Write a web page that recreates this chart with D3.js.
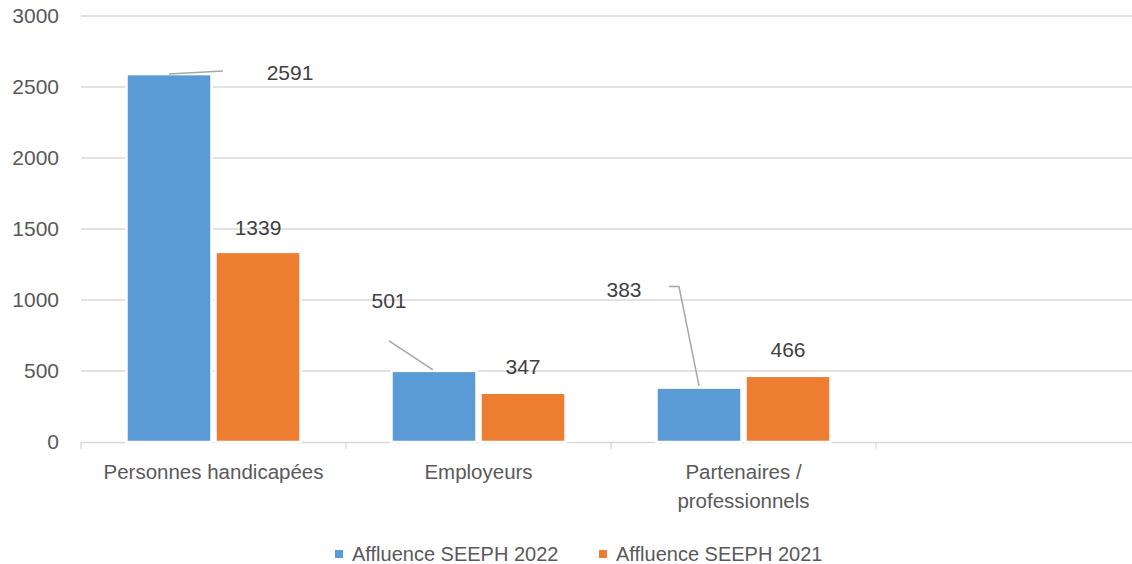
<!DOCTYPE html>
<html>
<head>
  <meta charset="utf-8">
  <title>Affluence SEEPH</title>
  <style>
    body { margin: 0; background: #fff; }
    svg { display: block; font-family: "Liberation Sans", Arial, sans-serif; }
  </style>
  <script src="https://cdn.jsdelivr.net/npm/d3@7"></script>
</head>
<body>
<div id="chart"></div>
<script>

var categories = ["Personnes handicapées", "Employeurs", "Partenaires / professionnels", ""];
var categoryLines = [["Personnes handicapées"], ["Employeurs"], ["Partenaires /", "professionnels"], []];
var seriesNames = ["Affluence SEEPH 2022", "Affluence SEEPH 2021"];
var values2022 = [2591, 501, 383];
var values2021 = [1339, 347, 466];
var yTicks = [0, 500, 1000, 1500, 2000, 2500, 3000];
var colors = ["#5B9BD5", "#ED7D31"];

// where Excel left the data labels (dx from bar centre, dy from bar top) and leader lines
var labelPos = [
  [{dx: 121, dy: -1, leader: [[0, 0], [54, -3]]}, {dx: 0, dy: -24}],
  [{dx: -45, dy: -70, leader: [[-45, -30], [-1, -1]]}, {dx: 0, dy: -26}],
  [{dx: -75, dy: -98, leader: [[-30, -101], [-20, -101], [0, -2]]}, {dx: 0, dy: -26}]
];

var width = 1132, height = 564;

var svg = d3.select("#chart").append("svg")
  .attr("width", width)
  .attr("height", height);

var x = d3.scaleBand()
  .domain(categories)
  .range([81, 1141])
  .paddingInner(0)
  .paddingOuter(0);

var xSub = d3.scaleBand()
  .domain(seriesNames)
  .range([0, x.bandwidth()])
  .paddingInner(0.045)
  .paddingOuter(0.511);

var y = d3.scaleLinear()
  .domain([0, 3000])
  .range([442, 16]);

// gridlines
svg.append("g")
  .selectAll("line")
  .data(yTicks.slice(1))
  .join("line")
  .attr("x1", 81)
  .attr("x2", width)
  .attr("y1", function(d) { return y(d); })
  .attr("y2", function(d) { return y(d); })
  .attr("stroke", "#d9d9d9")
  .attr("stroke-width", 1.3);

// y labels
svg.append("g")
  .selectAll("text")
  .data(yTicks)
  .join("text")
  .attr("x", 59)
  .attr("y", function(d) { return y(d); })
  .attr("dy", "0.35em")
  .attr("text-anchor", "end")
  .attr("fill", "#595959")
  .style("font-size", "21px")
  .text(function(d) { return d; });

// x axis line and ticks
svg.append("line")
  .attr("x1", 81).attr("x2", width)
  .attr("y1", y(0) + 0.5).attr("y2", y(0) + 0.5)
  .attr("stroke", "#d9d9d9")
  .attr("stroke-width", 1.3);

var tickXs = categories.map(function(c) { return x(c); }).concat([x.range()[1]]);
svg.append("g")
  .selectAll("line")
  .data(tickXs)
  .join("line")
  .attr("x1", function(d) { return d; })
  .attr("x2", function(d) { return d; })
  .attr("y1", y(0))
  .attr("y2", y(0) + 7)
  .attr("stroke", "#d9d9d9")
  .attr("stroke-width", 1.3);

// category labels
categories.forEach(function(c, i) {
  var t = svg.append("text")
    .attr("text-anchor", "middle")
    .attr("fill", "#595959")
    .style("font-size", "20.5px");
  categoryLines[i].forEach(function(line, j) {
    t.append("tspan")
      .attr("x", x(c) + x.bandwidth() / 2)
      .attr("y", 479 + j * 29)
      .text(line);
  });
});

// bars
var series = [values2022, values2021];
series.forEach(function(vals, s) {
  var g = svg.append("g");
  var rows = vals.map(function(v, i) { return {cat: categories[i], v: v}; });
  g.selectAll("rect")
    .data(rows)
    .join("rect")
    .attr("x", function(d) { return x(d.cat) + xSub(seriesNames[s]); })
    .attr("y", function(d) { return y(d.v); })
    .attr("width", xSub.bandwidth())
    .attr("height", function(d) { return y(0) - y(d.v); })
    .attr("fill", colors[s])
    .attr("stroke", "#fff")
    .attr("stroke-width", 2.5);
});

// data labels and leader lines
series.forEach(function(vals, s) {
  vals.forEach(function(v, i) {
    var cx = x(categories[i]) + xSub(seriesNames[s]) + xSub.bandwidth() / 2;
    var top = y(v);
    var p = labelPos[i][s];
    if (p.leader) {
      svg.append("path")
        .attr("d", d3.line()(p.leader.map(function(q) { return [cx + q[0], top + q[1]]; })))
        .attr("fill", "none")
        .attr("stroke", "#a6a6a6")
        .attr("stroke-width", 1.5);
    }
    svg.append("text")
      .attr("x", cx + p.dx)
      .attr("y", top + p.dy)
      .attr("dy", "0.35em")
      .attr("text-anchor", "middle")
      .attr("fill", "#404040")
      .style("font-size", "21px")
      .text(v);
  });
});

// legend
var legendX = [335, 599];
seriesNames.forEach(function(name, s) {
  svg.append("rect")
    .attr("x", legendX[s])
    .attr("y", 550)
    .attr("width", 8)
    .attr("height", 8)
    .attr("fill", colors[s]);
  svg.append("text")
    .attr("x", legendX[s] + 17)
    .attr("y", 554)
    .attr("dy", "0.35em")
    .attr("fill", "#595959")
    .style("font-size", "20px")
    .text(name);
});

</script>
</body>
</html>
